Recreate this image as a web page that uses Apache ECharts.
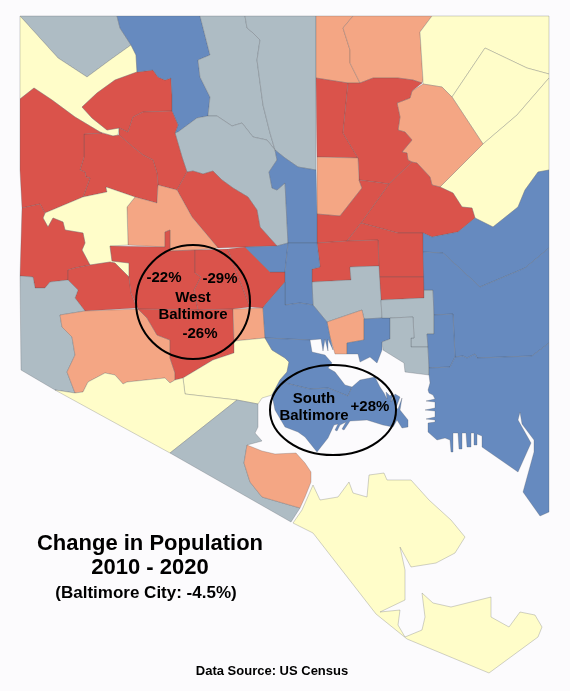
<!DOCTYPE html>
<html><head><meta charset="utf-8">
<style>html,body{margin:0;padding:0;background:#fcfbfd}#c{width:570px;height:691px}</style>
<script src="https://cdn.jsdelivr.net/npm/echarts@6/dist/echarts.min.js"></script>
</head><body><div id="c"></div>
<script>
// Class value (% change 2010-2020) estimated per neighbourhood from the map's colours.
const RED=-25, SALMON=-10, GREY=-2, YELLOW=3, BLUE=20;
const neighbourhoods=[
["nwGrey",GREY,[[20,16],[117,16],[120,28],[131,45],[110,60],[87,77],[58,58]]],
["nwYellow",YELLOW,[[20,16],[58,58],[87,77],[110,60],[131,45],[136,55],[137,72],[115,80],[97,93],[82,107],[92,118],[107,130],[113,129],[119,128],[118,135],[113,136],[100,132],[75,117],[52,100],[34,88],[20,99]]],
["redUpper",RED,[[137,72],[153,70],[158,77],[165,80],[171,78],[172,95],[172,111],[143,112],[133,117],[128,132],[119,128],[113,129],[107,130],[92,118],[82,107],[97,93],[115,80]]],
["blueNorth",BLUE,[[117,16],[200,16],[210,55],[198,60],[200,77],[210,97],[208,116],[197,118],[178,132],[175,133],[178,125],[172,111],[172,95],[171,78],[165,80],[158,77],[153,70],[137,72],[136,55],[131,45],[120,28]]],
["greyN1",GREY,[[200,16],[245,16],[247,28],[252,32],[260,40],[257,60],[263,105],[270,133],[275,150],[267,140],[253,137],[242,123],[232,126],[217,116],[208,116],[210,97],[200,77],[198,60],[210,55]]],
["greyN2",GREY,[[245,16],[316,16],[316,170],[298,167],[285,158],[275,150],[270,133],[263,105],[257,60],[260,40],[252,32],[247,28]]],
["greyCentre",GREY,[[285,183],[288,243],[277,246],[260,227],[257,210],[248,197],[233,188],[222,180],[213,171],[203,174],[193,171],[187,172],[182,157],[175,133],[178,132],[197,118],[208,116],[217,116],[232,126],[242,123],[253,137],[267,140],[275,150],[277,160],[269,172],[272,188],[277,190]]],
["redCentre",RED,[[119,135],[119,128],[128,132],[133,117],[143,112],[172,111],[178,125],[175,133],[182,157],[187,172],[177,190],[158,185],[157,173],[153,160],[143,155],[133,147]]],
["redInner",RED,[[84,134],[102,133],[113,136],[119,135],[133,147],[143,155],[153,160],[157,173],[158,185],[157,203],[135,197],[106,187],[107,192],[83,197],[90,178],[86,177],[85,172],[80,170],[84,157]]],
["redWest",RED,[[20,99],[34,88],[52,100],[75,117],[100,132],[102,133],[84,134],[84,157],[80,170],[85,172],[86,177],[90,178],[83,197],[45,213],[40,204],[22,208],[20,170]]],
["redLake",RED,[[177,190],[187,172],[193,171],[203,174],[213,171],[222,180],[233,188],[248,197],[257,210],[260,227],[277,246],[245,247],[218,248],[192,217]]],
["salmonMid",SALMON,[[158,185],[177,190],[192,217],[218,248],[195,250],[170,251],[170,230],[165,232],[165,247],[128,245],[127,207],[135,197],[157,203]]],
["yellowMid",YELLOW,[[107,192],[106,187],[135,197],[127,207],[128,245],[110,246],[112,261],[129,263],[129,277],[115,263],[110,262],[90,265],[82,250],[85,243],[83,233],[65,230],[63,222],[53,218],[48,227],[43,218],[45,213],[83,197]]],
["redFarWest",RED,[[22,208],[40,204],[45,213],[43,218],[48,227],[53,218],[63,222],[65,230],[83,233],[85,243],[82,250],[90,265],[75,268],[68,270],[68,280],[50,282],[45,288],[35,288],[33,277],[20,276]]],
["redSw",RED,[[68,270],[75,268],[90,265],[110,262],[115,263],[129,277],[131,293],[137,308],[85,311],[75,298],[78,290],[68,280]]],
["greySw",GREY,[[20,276],[33,277],[35,288],[45,288],[50,282],[68,280],[78,290],[75,298],[85,311],[60,315],[62,327],[72,337],[75,355],[67,372],[75,393],[55,390],[21,370]]],
["salmonSw",SALMON,[[60,315],[85,311],[138,309],[147,318],[157,335],[170,340],[170,358],[175,373],[175,380],[170,383],[165,378],[127,382],[123,384],[115,375],[105,373],[88,382],[83,392],[75,393],[67,372],[75,355],[72,337],[62,327]]],
["westA",-22,[[110,246],[165,247],[165,232],[170,230],[170,251],[195,250],[195,273],[201,277],[194,290],[198,310],[138,309],[137,308],[131,293],[129,277],[129,263],[112,261]]],
["westB",-29,[[195,250],[228,249],[233,263],[250,307],[233,309],[198,310],[194,290],[201,277],[195,273]]],
["westBEast",-29,[[228,249],[245,247],[270,272],[285,272],[285,282],[265,305],[263,308],[250,307],[233,263]]],
["westC",-26,[[138,309],[198,310],[233,309],[234,341],[234,353],[213,360],[183,378],[175,380],[175,373],[170,358],[170,340],[157,335],[147,318]]],
["salmonSmall",SALMON,[[233,309],[263,308],[265,338],[234,341]]],
["yellowCherry",YELLOW,[[183,378],[213,360],[234,353],[234,341],[265,338],[272,350],[285,358],[289,362],[287,372],[280,380],[272,395],[262,398],[258,404],[237,400],[185,394]]],
["yellowSw",YELLOW,[[55,390],[75,393],[83,392],[88,382],[105,373],[115,375],[123,384],[127,382],[165,378],[170,383],[175,380],[183,378],[185,394],[237,400],[170,453]]],
["greyS",GREY,[[170,453],[237,400],[258,404],[258,427],[255,433],[262,441],[247,445],[244,463],[250,482],[262,497],[300,508],[291,522]]],
["salmonS",SALMON,[[247,445],[262,451],[275,454],[296,453],[305,463],[311,472],[311,482],[305,497],[300,508],[262,497],[250,482],[244,463]]],
["yellowFarS",YELLOW,[[293,523],[302,510],[313,485],[320,500],[338,497],[349,482],[353,493],[367,497],[369,475],[384,473],[387,480],[411,480],[429,500],[451,520],[465,537],[455,553],[436,563],[411,567],[400,547],[405,570],[405,600],[380,612],[400,610],[398,625],[405,637],[422,630],[425,617],[422,593],[433,603],[451,607],[491,597],[491,617],[509,627],[520,612],[535,615],[542,627],[538,637],[489,673],[407,639],[376,614],[313,533]]],
["salmonN1",SALMON,[[316,16],[353,16],[343,28],[350,50],[350,63],[360,83],[348,83],[316,78]]],
["salmonN2",SALMON,[[353,16],[432,16],[420,32],[423,80],[422,83],[413,80],[398,78],[373,78],[360,83],[350,63],[350,50],[343,28]]],
["yellowNe1",YELLOW,[[432,16],[549,16],[549,74],[527,68],[485,48],[452,97],[442,87],[423,84],[423,80],[420,32]]],
["yellowNe2",YELLOW,[[485,48],[527,68],[549,74],[549,78],[517,115],[483,144],[452,97]]],
["yellowNe3",YELLOW,[[549,78],[549,170],[538,172],[525,190],[518,207],[493,227],[475,218],[472,208],[462,207],[453,193],[440,187],[483,144],[517,115]]],
["salmonE",SALMON,[[423,84],[442,87],[452,97],[483,144],[440,187],[432,185],[430,177],[417,163],[412,162],[408,160],[407,153],[402,152],[412,140],[405,132],[398,130],[400,117],[397,103],[410,98],[412,91]]],
["redE1",RED,[[316,78],[348,83],[343,133],[358,158],[317,157]]],
["redE2",RED,[[348,83],[360,83],[373,78],[398,78],[413,80],[422,83],[412,91],[410,98],[397,103],[400,117],[398,130],[405,132],[412,140],[402,152],[407,153],[408,160],[412,162],[389,184],[375,182],[359,180],[358,158],[343,133]]],
["salmonE2",SALMON,[[317,157],[358,158],[359,180],[362,188],[340,216],[317,214]]],
["redE3",RED,[[412,162],[417,163],[430,177],[432,185],[440,187],[453,193],[462,207],[472,208],[475,218],[458,232],[432,237],[423,233],[398,233],[361,223],[389,184]]],
["redE4",RED,[[359,180],[375,182],[389,184],[361,223],[347,241],[317,243],[317,214],[340,216],[362,188]]],
["redE5",RED,[[361,223],[398,233],[423,233],[424,277],[379,277],[378,240],[347,241]]],
["redE6",RED,[[317,243],[347,241],[378,240],[379,266],[350,267],[351,280],[312,282],[312,269],[320,267]]],
["redE7",RED,[[379,277],[424,277],[424,298],[381,300]]],
["greyG6",GREY,[[312,282],[351,280],[350,267],[379,266],[381,300],[382,318],[364,319],[362,310],[327,322],[313,305]]],
["salmonS7",SALMON,[[327,322],[362,310],[364,319],[364,340],[347,343],[347,354],[335,354],[330,337]]],
["blueB5",BLUE,[[364,319],[382,318],[390,318],[390,339],[382,342],[382,350],[377,363],[370,357],[360,362],[358,354],[347,354],[347,343],[364,340]]],
["greyG7",GREY,[[381,300],[424,298],[424,290],[433,290],[434,315],[434,334],[427,334],[428,347],[411,347],[411,338],[414,338],[413,317],[390,318],[382,318]]],
["greyG8",GREY,[[390,318],[413,317],[414,338],[411,338],[411,347],[428,347],[429,368],[429,375],[405,372],[404,363],[383,350],[382,342],[390,339]]],
["blueE1",BLUE,[[423,233],[432,237],[458,232],[475,218],[493,227],[518,207],[525,190],[538,172],[549,170],[549,248],[525,268],[480,287],[443,253],[423,252]]],
["blueE2",BLUE,[[423,252],[443,253],[480,287],[525,268],[549,248],[549,343],[532,356],[477,358],[475,354],[467,358],[463,356],[455,357],[453,314],[434,315],[433,290],[424,290]]],
["blueE3",BLUE,[[434,315],[453,314],[455,357],[450,367],[429,368],[428,347],[427,334],[434,334]]],
["blueE4",BLUE,[[429,368],[450,367],[455,357],[463,356],[467,358],[475,354],[477,358],[532,356],[549,343],[549,512],[540,516],[523,492],[534,452],[534,440],[522,424],[520,412],[518,420],[531,443],[518,472],[482,447],[482,436],[477,434],[477,445],[474,445],[474,433],[471,433],[471,447],[467,447],[466,433],[462,433],[462,449],[459,449],[458,433],[453,433],[453,452],[451,452],[450,440],[445,438],[437,440],[428,432],[428,423],[435,422],[435,420],[426,419],[426,418],[435,417],[435,411],[425,410],[425,409],[435,408],[435,402],[426,401],[426,400],[435,399],[433,395],[429,393],[428,390],[430,383],[429,375]]],
["blueCol",BLUE,[[275,150],[285,158],[298,167],[316,170],[317,214],[317,243],[288,243],[285,183],[277,190],[272,188],[269,172],[277,160]]],
["blueB3a",BLUE,[[245,247],[277,246],[288,243],[285,272],[270,272]]],
["blueB3b",BLUE,[[288,243],[317,243],[320,267],[312,269],[312,282],[313,305],[300,303],[285,305],[285,282],[285,272]]],
["blueB3c",BLUE,[[263,308],[265,305],[285,282],[285,305],[300,303],[313,305],[327,322],[330,337],[333,350],[332,350],[328,339],[328,351],[327,351],[325,339],[323,351],[322,351],[321,339],[310,340],[265,338]]],
["blueB4a",BLUE,[[265,338],[310,340],[312,352],[325,355],[332,363],[328,368],[335,372],[345,385],[352,387],[348,396],[328,388],[310,389],[285,383],[280,380],[287,372],[289,362],[285,358],[272,350]]],
["southBaltimore",28,[[280,380],[285,383],[310,389],[328,388],[348,396],[352,387],[360,380],[375,377],[380,387],[384,393],[387,399],[388,399],[386,392],[390,396],[393,393],[391,402],[392,403],[395,394],[400,397],[396,408],[398,409],[402,398],[400,410],[408,420],[408,427],[402,428],[397,420],[393,427],[383,425],[367,420],[350,421],[344,430],[342,429],[346,422],[340,425],[337,431],[335,430],[338,424],[334,425],[328,438],[317,452],[305,437],[298,432],[285,427],[275,410],[272,395]]]
];
const classBreaks=[{lt:-15,color:"#da534b"},{gte:-15,lt:-5,color:"#f4a684"},{gte:-5,lt:0,color:"#aebcc4"},{gte:0,lt:10,color:"#fffdc9"},{gte:10,color:"#668abf"}];
const titleLines=["Change in Population","2010 - 2020"];
const subtitle="(Baltimore City: -4.5%)";
const source="Data Source: US Census";

const geo={type:"FeatureCollection",features:neighbourhoods.map(n=>({type:"Feature",properties:{name:n[0]},
  geometry:{type:"Polygon",coordinates:[n[2].map(p=>[p[0],-p[1]])]}}))};
echarts.registerMap("baltimore",geo);
const chart=echarts.init(document.getElementById("c"),null,{renderer:"canvas"});
const font='"Liberation Sans",Arial,sans-serif';
const txt=(t,x,y,s)=>({type:"text",x:x,y:y,silent:true,z:20,style:{text:t,fill:"#000",font:"bold "+s+"px "+font,align:"center",verticalAlign:"middle"}});
chart.setOption({
  animation:false,backgroundColor:"#fcfbfd",
  visualMap:{show:false,type:"piecewise",seriesIndex:0,pieces:classBreaks},
  series:[{type:"map",map:"baltimore",aspectScale:1,left:0,top:0,width:570,height:691,
    boundingCoords:[[0,0],[570,-691]],roam:false,silent:true,selectedMode:false,
    label:{show:false},emphasis:{disabled:true},
    itemStyle:{borderColor:"rgba(80,85,90,0.38)",borderWidth:0.7},
    data:neighbourhoods.map(n=>({name:n[0],value:n[1]}))}],
  graphic:[
    {type:"ellipse",silent:true,z:15,shape:{cx:193,cy:302,rx:57,ry:57},style:{fill:"none",stroke:"#000",lineWidth:2}},
    {type:"ellipse",silent:true,z:15,shape:{cx:333,cy:410,rx:63,ry:45},style:{fill:"none",stroke:"#000",lineWidth:2}},
    txt("-22%",164,278,15),txt("-29%",220,279,15),txt("West",193,298,15),txt("Baltimore",193,315,15),txt("-26%",200,334,15),
    txt("South",314,399,15),txt("Baltimore",314,416,15),txt("+28%",370,407,15),
    txt(titleLines[0],150,544,22),txt(titleLines[1],150,568,22),txt(subtitle,146,593,17),txt(source,272,671,13)
  ]
});
</script></body></html>
